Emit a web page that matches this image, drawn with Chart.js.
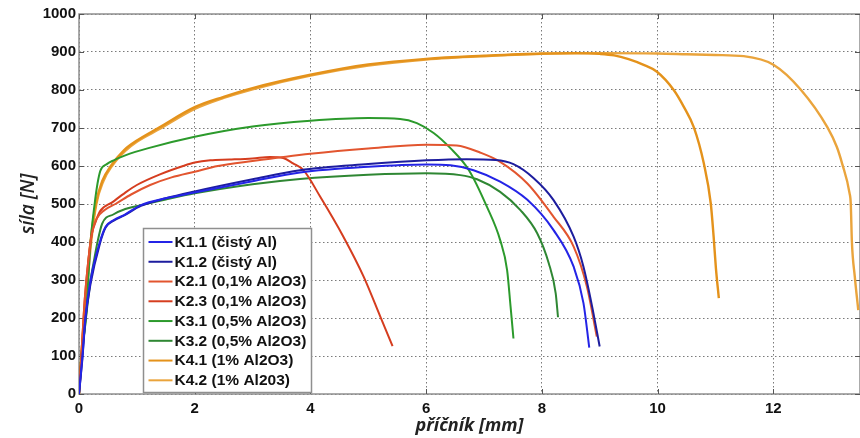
<!DOCTYPE html>
<html>
<head>
<meta charset="utf-8">
<script src="https://cdn.jsdelivr.net/npm/chart.js@4.4.1/dist/chart.umd.min.js"></script>
<style>
  html, body { margin: 0; padding: 0; background: #fff; }
</style>
</head>
<body>
<canvas id="tahChart" width="860" height="438"></canvas>
<script>
// Tahové zkoušky – síla vs. příčník
const seriesLabels = [
  'K1.1 (čistý Al)',
  'K1.2 (čistý Al)',
  'K2.1 (0,1% Al2O3)',
  'K2.3 (0,1% Al2O3)',
  'K3.1 (0,5% Al2O3)',
  'K3.2 (0,5% Al2O3)',
  'K4.1 (1% Al2O3)',
  'K4.2 (1% Al203)'
]
const seriesColors = ['#2424e6', '#1d1d9e', '#e2552f', '#d53d1f', '#2c9a2c', '#2f8733', '#e4921b', '#eaa43c']

const xTicks = [0, 2, 4, 6, 8, 10, 12]
const yTicks = [0, 100, 200, 300, 400, 500, 600, 700, 800, 900, 1000]

// posuv příčníku [mm]
const k11X = [0, 0.06, 0.11, 0.2, 0.36, 0.46, 0.6, 0.78, 1.07, 1.5, 2.0, 3.0, 3.82, 5.0, 6.01, 6.42, 6.82, 7.28, 7.75, 8.2, 8.55, 8.72, 8.82]
const k12X = [0, 0.06, 0.11, 0.2, 0.36, 0.46, 0.6, 0.78, 1.07, 1.5, 2.0, 3.0, 3.82, 5.0, 6.01, 6.7, 7.2, 7.51, 7.86, 8.2, 8.55, 8.72, 8.87, 9.0]
const k21X = [0, 0.04, 0.1, 0.16, 0.22, 0.3, 0.45, 0.63, 0.9, 1.23, 1.6, 2.0, 2.4, 3.0, 4.0, 5.0, 6.0, 6.53, 6.94, 7.28, 7.75, 8.2, 8.55, 8.78, 8.95]
const k23X = [0, 0.04, 0.1, 0.16, 0.22, 0.28, 0.36, 0.58, 0.8, 1.0, 1.4, 1.8, 2.0, 2.27, 2.6, 3.0, 3.3, 3.53, 3.7, 3.88, 4.17, 4.57, 4.92, 5.21, 5.42]
const k31X = [0, 0.04, 0.12, 0.16, 0.2, 0.27, 0.32, 0.37, 0.48, 0.6, 0.8, 1.2, 2.0, 3.0, 4.0, 5.0, 5.55, 5.84, 6.13, 6.42, 6.74, 7.05, 7.28, 7.4, 7.46, 7.51]
const k32X = [0, 0.05, 0.12, 0.2, 0.27, 0.32, 0.4, 0.6, 0.8, 1.07, 1.5, 2.0, 3.0, 3.82, 5.0, 6.01, 6.59, 6.88, 7.28, 7.63, 7.92, 8.12, 8.24, 8.28]
const k41X = [0, 0.02, 0.04, 0.09, 0.14, 0.2, 0.29, 0.4, 0.55, 0.78, 1.0, 1.37, 2.0, 2.5, 3.0, 4.0, 5.0, 6.0, 7.0, 8.0, 8.6, 9.0, 9.25, 9.5, 9.76, 9.99, 10.28, 10.45, 10.63, 10.8, 10.92, 10.97, 11.01, 11.06]
const k42X = [0, 0.02, 0.05, 0.1, 0.15, 0.21, 0.3, 0.42, 0.57, 0.8, 1.0, 1.4, 2.0, 2.5, 3.0, 4.0, 5.0, 6.0, 7.0, 8.0, 9.0, 10.0, 10.5, 11.0, 11.49, 12.01, 12.47, 12.94, 13.1, 13.19, 13.32, 13.34, 13.36, 13.41, 13.47]

// síla [N]
const k11Y = [0, 100, 200, 300, 400, 440, 458, 471, 497, 515, 530, 560, 583, 598, 604, 602, 589, 559, 511, 432, 335, 239, 122]
const k12Y = [0, 95, 195, 290, 395, 438, 456, 470, 495, 515, 533, 565, 589, 605, 615, 618, 616, 605, 568, 511, 414, 335, 230, 125]
const k21Y = [0, 100, 250, 350, 420, 460, 485, 500, 525, 550, 570, 585, 600, 613, 632, 646, 656, 654, 635, 611, 554, 467, 388, 282, 151]
const k23Y = [0, 100, 250, 350, 420, 450, 480, 505, 530, 550, 578, 600, 609, 615, 617, 620, 624, 621, 607, 589, 519, 414, 309, 203, 126]
const k31Y = [0, 100, 200, 300, 400, 500, 554, 588, 605, 615, 628, 647, 677, 704, 719, 726, 724, 713, 687, 647, 589, 493, 405, 326, 230, 146]
const k32Y = [0, 100, 200, 300, 360, 400, 448, 473, 487, 497, 512, 528, 552, 566, 577, 581, 576, 565, 532, 484, 423, 344, 265, 202]
const k41Y = [0, 50, 100, 200, 300, 400, 500, 560, 600, 642, 667, 700, 755, 782, 805, 840, 867, 882, 890, 896, 897, 895, 891, 881, 866, 848, 800, 757, 701, 607, 502, 414, 330, 252]
const k42Y = [0, 45, 100, 200, 300, 400, 500, 560, 600, 640, 664, 698, 750, 779, 802, 838, 864, 880, 889, 895, 897, 896, 894, 892, 889, 866, 802, 701, 650, 607, 528, 502, 400, 309, 221]

const seriesX = [k11X, k12X, k21X, k23X, k31X, k32X, k41X, k42X]
const seriesY = [k11Y, k12Y, k21Y, k23Y, k31Y, k32Y, k41Y, k42Y]

const datasets = seriesLabels.map((label, i) => ({
  label,
  data: seriesX[i].map((x, j) => ({ x, y: seriesY[i][j] })),
  borderColor: seriesColors[i],
  backgroundColor: seriesColors[i],
  borderWidth: i >= 6 ? 2.4 : 2,
  pointRadius: 0,
  fill: false,
  cubicInterpolationMode: 'monotone'
}))

// rámeček a vnitřní značky os (jako v MATLABu)
const frameTicks = {
  id: 'frameTicks',
  beforeDatasetsDraw(chart) {
    const { ctx, chartArea: a, scales } = chart
    ctx.save()
    ctx.strokeStyle = '#8f8f8f'
    ctx.lineWidth = 1.5
    ctx.strokeRect(a.left, a.top, a.right - a.left, a.bottom - a.top)
    ctx.strokeStyle = '#555'
    ctx.lineWidth = 1
    ctx.beginPath()
    scales.x.ticks.forEach(t => {
      const px = Math.round(scales.x.getPixelForValue(t.value)) + 0.5
      ctx.moveTo(px, a.bottom); ctx.lineTo(px, a.bottom - 5)
      ctx.moveTo(px, a.top); ctx.lineTo(px, a.top + 5)
    })
    scales.y.ticks.forEach(t => {
      const py = Math.round(scales.y.getPixelForValue(t.value)) + 0.5
      ctx.moveTo(a.left, py); ctx.lineTo(a.left + 5, py)
      ctx.moveTo(a.right, py); ctx.lineTo(a.right - 5, py)
    })
    ctx.stroke()
    ctx.restore()
  }
}

// legenda uvnitř grafu
const boxLegend = {
  id: 'boxLegend',
  afterDatasetsDraw(chart, args, opts) {
    const { ctx } = chart
    const { left, top, width, height, rowGap, firstRow } = opts
    ctx.save()
    ctx.fillStyle = '#fff'
    ctx.fillRect(left, top, width, height)
    ctx.strokeStyle = '#8f8f8f'
    ctx.lineWidth = 1.5
    ctx.strokeRect(left, top, width, height)
    ctx.font = 'bold 15.5px "Liberation Sans", Arial, sans-serif'
    ctx.textBaseline = 'middle'
    chart.data.datasets.forEach((ds, i) => {
      const y = top + firstRow + i * rowGap
      ctx.strokeStyle = ds.borderColor
      ctx.lineWidth = 2
      ctx.beginPath()
      ctx.moveTo(left + 5, y)
      ctx.lineTo(left + 29, y)
      ctx.stroke()
      ctx.fillStyle = '#111'
      ctx.fillText(ds.label, left + 31, y + 0.5)
    })
    ctx.restore()
  }
}

const tickFont = { family: '"Liberation Sans", Arial, sans-serif', size: 15, weight: 'bold' }

new Chart(document.getElementById('tahChart'), {
  type: 'line',
  data: { datasets },
  plugins: [frameTicks, boxLegend],
  options: {
    responsive: false,
    animation: false,
    layout: { padding: { top: 14, right: 0, left: 0, bottom: 0 } },
    plugins: {
      legend: { display: false },
      tooltip: { enabled: false },
      boxLegend: { left: 143.5, top: 228.5, width: 168, height: 164, rowGap: 19.76, firstRow: 13.5 }
    },
    scales: {
      x: {
        type: 'linear',
        min: 0,
        max: 13.5,
        afterBuildTicks: s => { s.ticks = xTicks.map(v => ({ value: v })) },
        afterFit: s => { s.height = 44 },
        grid: { color: '#7a7a7a', lineWidth: 1, drawTicks: false },
        border: { display: false, dash: [1.5, 2.5] },
        ticks: { color: '#111', font: tickFont, padding: 6, maxRotation: 0, callback: v => String(v) },
        title: {
          display: true,
          text: 'příčník [mm]',
          color: '#222',
          font: { family: '"Open Sans", sans-serif', size: 18, style: 'italic', weight: 'bold' },
          padding: { top: 0, bottom: 1 }
        }
      },
      y: {
        min: 0,
        max: 1000,
        afterBuildTicks: s => { s.ticks = yTicks.map(v => ({ value: v })) },
        afterFit: s => { s.width = 79 },
        grid: { color: '#7a7a7a', lineWidth: 1, drawTicks: false },
        border: { display: false, dash: [1.5, 2.5] },
        ticks: { color: '#111', font: tickFont, padding: 3, callback: v => String(v) },
        title: {
          display: true,
          text: 'síla [N]',
          color: '#222',
          font: { family: '"Open Sans", sans-serif', size: 19, style: 'italic', weight: '600' },
          padding: { top: 17, bottom: 0 }
        }
      }
    }
  }
})
</script>
</body>
</html>
